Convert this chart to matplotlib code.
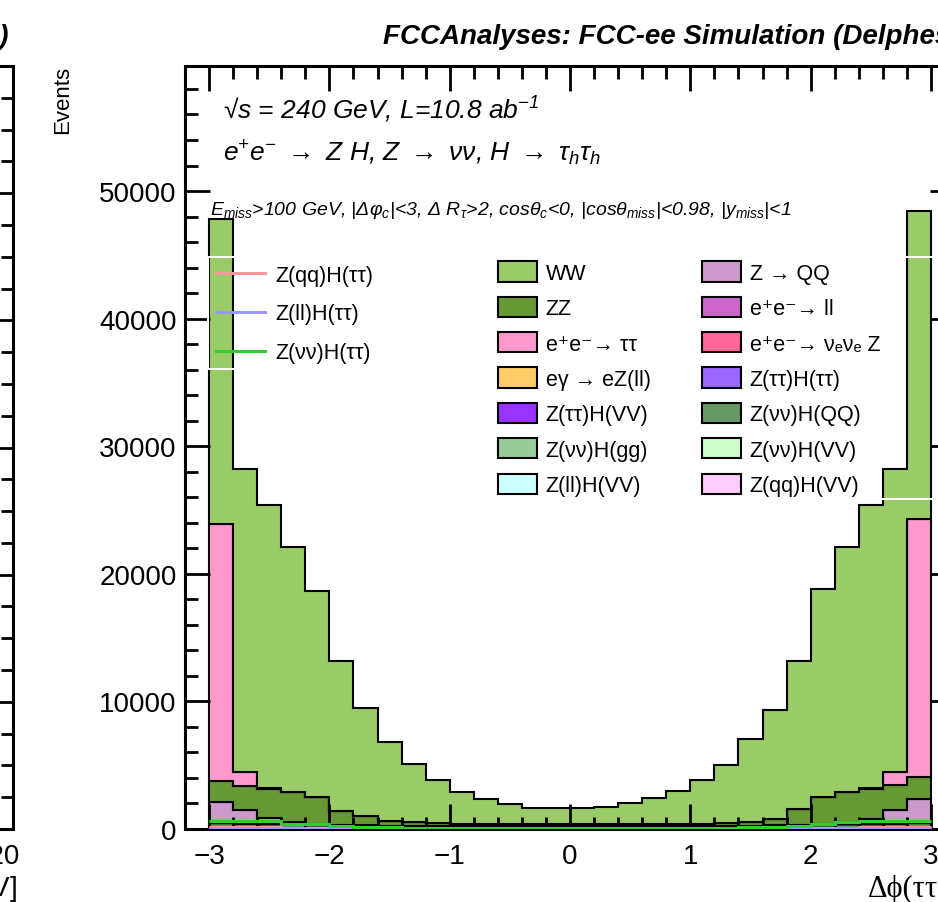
import matplotlib
matplotlib.use('Agg')
import matplotlib.pyplot as plt
from matplotlib.patches import Patch, Rectangle
from matplotlib.lines import Line2D
from matplotlib.ticker import MultipleLocator
import numpy as np

plt.rcParams['font.family'] = ['Liberation Sans', 'DejaVu Sans']
plt.rcParams['mathtext.fontset'] = 'custom'
plt.rcParams['mathtext.rm'] = 'Liberation Sans:italic'
plt.rcParams['mathtext.it'] = 'Liberation Sans:italic'
plt.rcParams['mathtext.bf'] = 'Liberation Sans:bold:italic'

# binning of the dphi histogram
bin_lo, bin_hi, n_bins = -3.0, 3.0, 30

# stacked backgrounds, events per bin
ww = [23900, 23760, 22200, 19200, 16150, 11760, 8470, 6200, 4550, 3370,
      2510, 1960, 1570, 1260, 1260, 1260, 1330, 1650, 2040, 2590,
      3450, 4550, 6510, 8550, 11600, 16240, 19140, 22200, 23760, 24080]
eetautau = [20160, 1100, 60, 30, 20, 15, 10, 8, 6, 5,
            5, 5, 5, 5, 5, 5, 5, 5, 5, 5,
            5, 6, 8, 10, 15, 20, 30, 60, 1020, 20240]
zz = [1640, 1880, 2250, 2390, 2100, 1070, 720, 370, 310, 250,
      190, 190, 190, 190, 190, 190, 190, 190, 190, 190,
      175, 235, 290, 490, 1220, 2100, 2390, 2330, 1960, 1710]
zqq = [1490, 940, 400, 80, 30, 10, 5, 0, 0, 0,
       0, 0, 0, 0, 0, 0, 0, 0, 0, 0,
       0, 0, 0, 5, 10, 30, 80, 320, 940, 1730]
ee_nuenuez = [40, 30, 25, 20, 15, 12, 10, 8, 6, 5,
              5, 5, 5, 5, 5, 5, 5, 5, 5, 5,
              5, 6, 8, 10, 12, 15, 20, 25, 30, 40]
ee_ll = [30, 20, 15, 10, 8, 6, 5, 4, 3, 3,
         3, 3, 3, 3, 3, 3, 3, 3, 3, 3,
         3, 3, 4, 5, 6, 8, 10, 15, 20, 30]
egamma = [20, 15, 10, 8, 6, 5, 4, 3, 3, 2,
          2, 2, 2, 2, 2, 2, 2, 2, 2, 2,
          2, 3, 3, 4, 5, 6, 8, 10, 15, 20]
zvvhvv = [20, 18, 16, 14, 12, 10, 8, 6, 5, 4,
          4, 4, 4, 4, 4, 4, 4, 4, 4, 4,
          4, 5, 6, 8, 10, 12, 14, 16, 18, 20]
zvvhgg = [20, 18, 15, 12, 10, 8, 6, 5, 4, 3,
          3, 3, 3, 3, 3, 3, 3, 3, 3, 3,
          3, 4, 5, 6, 8, 10, 12, 15, 18, 20]
ztthvv = [15, 12, 10, 8, 6, 5, 4, 3, 3, 2,
          2, 2, 2, 2, 2, 2, 2, 2, 2, 2,
          2, 3, 3, 4, 5, 6, 8, 10, 12, 15]
zqqhvv = [5, 5, 5, 4, 4, 3, 3, 2, 2, 2,
          2, 2, 2, 2, 2, 2, 2, 2, 2, 2,
          2, 2, 2, 3, 3, 4, 4, 5, 5, 5]
zllhvv = [5, 5, 5, 4, 4, 3, 3, 2, 2, 2,
          2, 2, 2, 2, 2, 2, 2, 2, 2, 2,
          2, 2, 2, 3, 3, 4, 4, 5, 5, 5]
zvvhqq = [330, 300, 280, 260, 240, 220, 200, 180, 170, 160,
          150, 150, 150, 150, 150, 150, 150, 150, 150, 150,
          160, 170, 180, 200, 220, 240, 260, 280, 300, 335]
ztthtt = [150, 130, 110, 95, 80, 65, 55, 45, 40, 35,
          30, 30, 30, 30, 30, 30, 30, 30, 30, 30,
          35, 40, 45, 55, 65, 80, 95, 110, 130, 155]

# signal samples, drawn as lines (not stacked)
zqqhtt = [150, 145, 130, 110, 90, 70, 55, 45, 40, 35,
          30, 30, 30, 30, 30, 30, 30, 30, 30, 30,
          35, 40, 45, 55, 70, 90, 110, 130, 145, 150]
zllhtt = [60, 55, 50, 45, 35, 30, 25, 20, 15, 15,
          12, 12, 12, 12, 12, 12, 12, 12, 12, 12,
          15, 15, 20, 25, 30, 35, 45, 50, 55, 60]
zvvhtt = [600, 600, 590, 420, 390, 200, 160, 130, 110, 95,
          85, 80, 75, 70, 70, 70, 70, 75, 80, 85,
          95, 110, 130, 160, 200, 400, 560, 600, 610, 610]

stack = [
    ('Z(ττ)H(ττ)', ztthtt, '#9966ff'),
    ('Z(νν)H(QQ)', zvvhqq, '#669966'),
    ('Z(ll)H(VV)', zllhvv, '#ccffff'),
    ('Z(qq)H(VV)', zqqhvv, '#ffccff'),
    ('Z(ττ)H(VV)', ztthvv, '#9933ff'),
    ('Z(νν)H(gg)', zvvhgg, '#99cc99'),
    ('Z(νν)H(VV)', zvvhvv, '#ccffcc'),
    ('eγ → eZ(ll)', egamma, '#ffcc66'),
    ('e⁺e⁻→ ll', ee_ll, '#cc66cc'),
    ('e⁺e⁻→ νₑνₑ Z', ee_nuenuez, '#ff6699'),
    ('Z → QQ', zqq, '#cc99cc'),
    ('ZZ', zz, '#669933'),
    ('e⁺e⁻→ ττ', eetautau, '#ff99cc'),
    ('WW', ww, '#99cc66'),
]
signals = [
    ('Z(qq)H(ττ)', zqqhtt, '#ff9999'),
    ('Z(ll)H(ττ)', zllhtt, '#9999ff'),
    ('Z(νν)H(ττ)', zvvhtt, '#33cc33'),
]
legend_order = ['WW', 'ZZ', 'e⁺e⁻→ ττ', 'eγ → eZ(ll)', 'Z(ττ)H(VV)', 'Z(νν)H(gg)',
                'Z(ll)H(VV)', 'Z → QQ', 'e⁺e⁻→ ll', 'e⁺e⁻→ νₑνₑ Z', 'Z(ττ)H(ττ)',
                'Z(νν)H(QQ)', 'Z(νν)H(VV)', 'Z(qq)H(VV)']

W, H = 938, 903
fig = plt.figure(figsize=(W / 100, H / 100), dpi=100)


def px(x0, y0, x1, y1):
    return [x0 / W, 1 - y1 / H, (x1 - x0) / W, (y1 - y0) / H]


def style_axis(a):
    for s in a.spines.values():
        s.set_linewidth(2.2)
    a.tick_params(which='both', direction='in', top=True, right=True, width=2.0,
                  labelsize=20, colors='black')
    a.tick_params(which='major', length=18)
    a.tick_params(which='minor', length=9)
    a.tick_params(axis='x', pad=10)
    a.tick_params(axis='y', pad=6)


# neighbouring panel, mostly cut off on the left
ax0 = fig.add_axes(px(13 - 770, 67, 13, 830))
ax0.set_xlim(0, 122.5)
ax0.set_ylim(0, 12)
ax0.xaxis.set_major_locator(MultipleLocator(20))
ax0.xaxis.set_minor_locator(MultipleLocator(5))
ax0.yaxis.set_major_locator(MultipleLocator(2))
ax0.yaxis.set_minor_locator(MultipleLocator(0.5))
style_axis(ax0)
ax0.set_yticklabels([])
fig.text(8 / W, 1 - 44 / H, 'FCCAnalyses: FCC-ee Simulation (Delphes)', ha='right',
         va='baseline', fontsize=20, fontweight='bold', style='italic')
fig.text(17 / W, 1 - 889 / H, 'E$_{miss}$ [GeV]', ha='right', va='center', fontsize=20)

# main panel
ax = fig.add_axes(px(185, 67, 955, 830))
edges = np.linspace(bin_lo, bin_hi, n_bins + 1)
bottom = np.zeros(n_bins)
handles = {}
for name, vals, col in stack:
    top = bottom + np.array(vals, dtype=float)
    ax.stairs(top, edges, baseline=bottom, fill=True, facecolor=col,
              edgecolor='black', linewidth=1.5)
    handles[name] = Patch(facecolor=col, edgecolor='black', linewidth=1.5)
    bottom = top

sig_handles = []
for name, vals, col in signals:
    ax.stairs(vals, edges, baseline=None, color=col, linewidth=2.2, zorder=3)
    sig_handles.append(Line2D([], [], color=col, linewidth=2.2))

ax.set_xlim(-3.2, 3.2)
ax.set_ylim(0, 59800)
ax.xaxis.set_major_locator(MultipleLocator(1))
ax.xaxis.set_minor_locator(MultipleLocator(0.2))
ax.yaxis.set_major_locator(MultipleLocator(10000))
ax.yaxis.set_minor_locator(MultipleLocator(2000))
style_axis(ax)

fig.text(63 / W, 1 - 66 / H, 'Events', rotation=90, ha='center', va='top', fontsize=16)
fig.text(868 / W, 1 - 889 / H, 'Δϕ(ττ)', ha='left', va='center', fontsize=22,
         family=['Liberation Serif', 'DejaVu Serif'])
fig.text(383 / W, 1 - 44 / H, 'FCCAnalyses: FCC-ee Simulation (Delphes)', ha='left',
         va='baseline', fontsize=20, fontweight='bold', style='italic')

fig.text(223 / W, 1 - 119 / H, '√s = 240 GeV, L=10.8 ab$^{-1}$',
         fontsize=19, style='italic', va='baseline')
fig.text(223 / W, 1 - 161 / H,
         r'e$^{+}$e$^{-}$ $\rightarrow$ Z H, Z $\rightarrow$ νν, H $\rightarrow$ τ$_{h}$τ$_{h}$',
         fontsize=19, style='italic', va='baseline')
fig.text(210 / W, 1 - 215 / H,
         r'E$_{miss}$>100 GeV, |Δφ$_{c}$|<3, Δ R$_{\tau}$>2, cosθ$_{c}$<0, '
         r'|cosθ$_{miss}$|<0.98, |y$_{miss}$|<1',
         fontsize=14, style='italic', va='baseline')

# legends: ROOT draws their boxes with a white border
leg_font = {'family': ['Liberation Sans', 'DejaVu Sans'], 'size': 15.5}
leg1 = ax.legend(sig_handles, [s[0] for s in signals], loc='upper left',
                 bbox_to_anchor=((208 - 185) / 770, (830 - 258) / 763),
                 bbox_transform=ax.transAxes, borderaxespad=0, prop=leg_font,
                 frameon=False, handlelength=2.3, handletextpad=0.5,
                 labelspacing=0.83, borderpad=0.35)
ax.add_artist(leg1)
ax.add_patch(Rectangle(((208 - 185) / 770, (830 - 370) / 763), (400 - 208) / 770,
                       (370 - 258) / 763, transform=ax.transAxes, fill=False,
                       edgecolor='white', linewidth=1.5, zorder=6, clip_on=False))

leg2 = ax.legend([handles[n] for n in legend_order], legend_order, ncol=2,
                 loc='upper left', bbox_to_anchor=((494 - 185) / 770, (830 - 258) / 763),
                 bbox_transform=ax.transAxes, borderaxespad=0, prop=leg_font,
                 frameon=False, handlelength=1.8, handleheight=1.07,
                 handletextpad=0.4, labelspacing=0.6, borderpad=0.2,
                 columnspacing=2.4)
ax.add_patch(Rectangle(((490 - 185) / 770, (830 - 500) / 763), (960 - 490) / 770,
                       (500 - 258) / 763, transform=ax.transAxes, fill=False,
                       edgecolor='white', linewidth=1.5, zorder=6, clip_on=False))

fig.savefig('out.png', dpi=100)
